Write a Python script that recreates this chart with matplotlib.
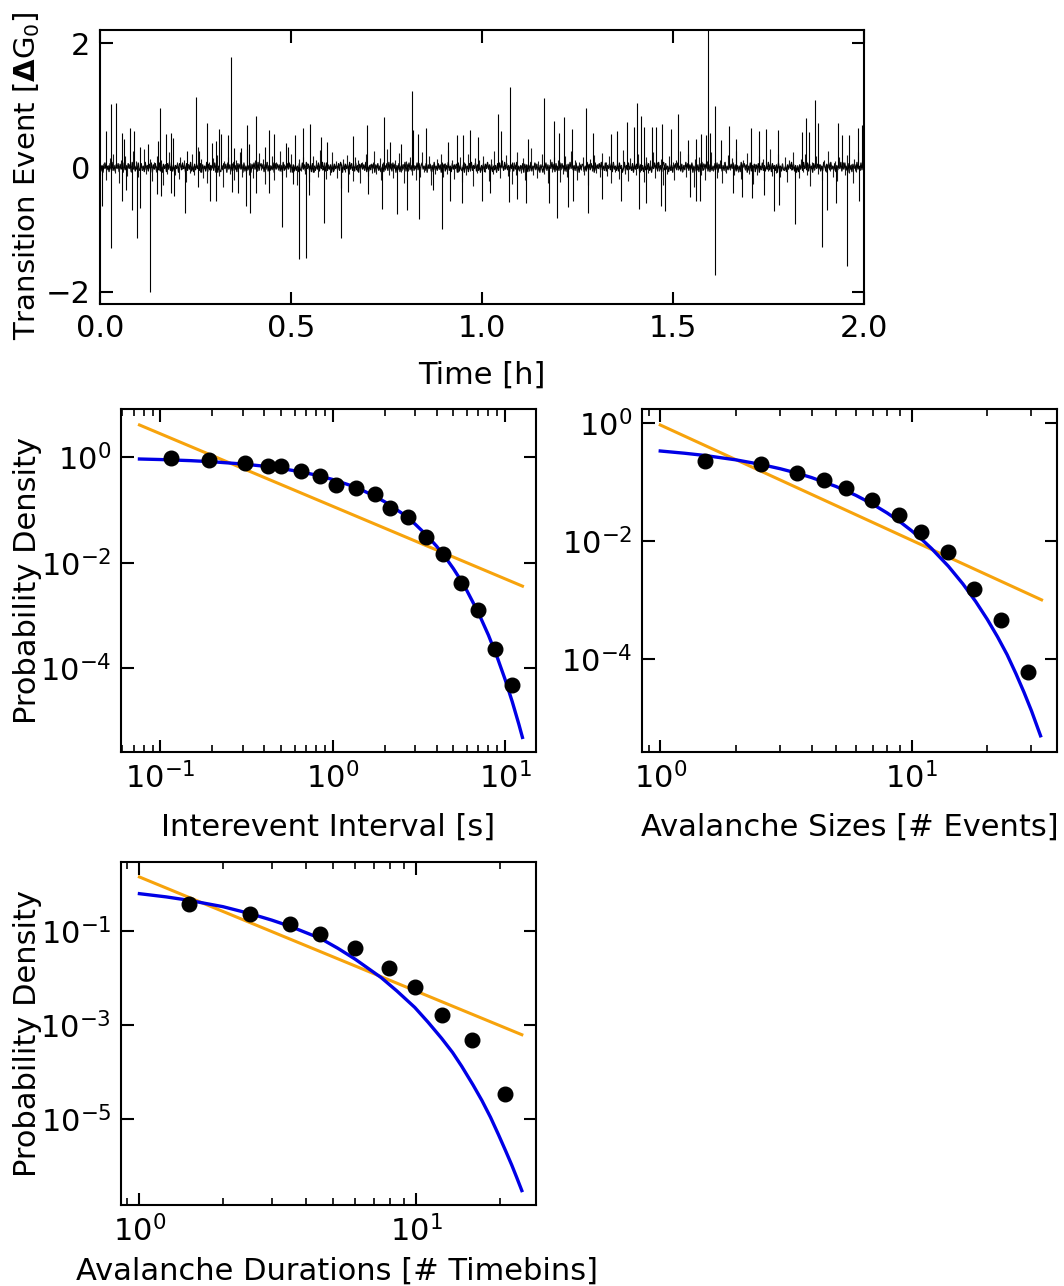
import numpy as np
import matplotlib
matplotlib.use("Agg")
import matplotlib.pyplot as plt
from matplotlib.ticker import FixedLocator, NullLocator, NullFormatter, LogLocator

# ---------------- top panel: transition events ----------------
up_t = [0.0148, 0.0279, 0.0410, 0.0567, 0.0637, 0.0785, 0.0899, 0.1047, 0.1265, 0.151,
        0.157, 0.1728, 0.185, 0.190, 0.2269, 0.2504, 0.2601, 0.281, 0.2923, 0.3037,
        0.3124, 0.3168, 0.3342, 0.3429, 0.3517, 0.3682, 0.3848, 0.3909, 0.4093, 0.4319,
        0.4433, 0.4555, 0.486, 0.493, 0.5105, 0.5305, 0.5497, 0.5777, 0.5934, 0.6632,
        0.6998, 0.7443, 0.760, 0.788, 0.8168, 0.8200, 0.8316, 0.8534, 0.9119, 0.9354,
        0.9494, 0.9686, 0.9904, 1.041, 1.0506, 1.0724, 1.1196, 1.1623, 1.1876, 1.2016,
        1.2155, 1.2347, 1.2714, 1.2897, 1.3377, 1.3525, 1.3787, 1.3979, 1.4058, 1.4154,
        1.424, 1.4459, 1.4555, 1.4703, 1.4948, 1.5122, 1.5401, 1.5593, 1.5733, 1.5855,
        1.5925, 1.5977, 1.6091, 1.6257, 1.6466, 1.6641, 1.7042, 1.7251, 1.7426, 1.7757,
        1.8368, 1.8473, 1.8569, 1.8709, 1.8787, 1.9328, 1.9433, 1.9607, 1.9852, 1.9939]
up_v = [0.59, 1.02, 1.04, 0.55, 0.45, 0.63, 0.59, 0.33, 0.38, 0.42,
        0.96, 0.53, 0.55, 0.47, 0.27, 1.13, 0.26, 0.71, 0.39, 0.43,
        0.62, 0.53, 0.52, 1.77, 0.31, 0.31, 0.68, 0.37, 0.82, 0.32,
        0.60, 0.53, 0.39, 0.32, 0.52, 0.63, 0.69, 0.49, 0.41, 0.51,
        0.68, 0.81, 0.40, 0.37, 1.23, 0.60, 0.53, 0.63, 0.41, 0.52,
        0.52, 0.60, 0.49, 0.85, 0.58, 1.30, 0.45, 1.12, 0.74, 0.55,
        0.81, 0.62, 0.96, 0.55, 0.53, 0.59, 0.73, 0.65, 1.04, 0.83,
        0.65, 0.65, 0.65, 0.69, 0.62, 0.85, 0.44, 0.46, 0.54, 0.52,
        2.35, 0.55, 0.98, 0.44, 0.66, 0.46, 0.63, 0.58, 0.62, 0.60,
        0.57, 0.79, 0.57, 1.09, 0.71, 0.72, 0.52, 0.52, 0.63, 0.68]
down_t = [0.0044, 0.0279, 0.0567, 0.0672, 0.0846, 0.0969, 0.1047, 0.1309, 0.1483, 0.1597,
          0.1859, 0.1946, 0.2225, 0.2557, 0.288, 0.3037, 0.3464, 0.3604, 0.3813, 0.3927,
          0.4084, 0.4433, 0.4756, 0.506, 0.521, 0.5393, 0.548, 0.5873, 0.630, 0.650,
          0.7025, 0.7373, 0.7784, 0.8045, 0.8351, 0.8709, 0.8953, 0.9154, 0.9468, 0.9991,
          1.0209, 1.0707, 1.0908, 1.1143, 1.1754, 1.1963, 1.2243, 1.2391, 1.2766, 1.3133,
          1.3639, 1.411, 1.4293, 1.4686, 1.479, 1.5445, 1.5600, 1.5698, 1.6095, 1.658,
          1.6815, 1.7077, 1.7382, 1.7653, 1.7775, 1.8185, 1.8909, 1.904, 1.9258, 1.9555,
          1.9878]
down_v = [-0.62, -1.30, -0.54, -0.36, -0.69, -1.14, -0.65, -2.01, -0.43, -0.46,
          -0.42, -0.46, -0.74, -0.32, -0.54, -0.54, -0.39, -0.42, -0.62, -0.74,
          -0.41, -0.42, -0.96, -0.27, -1.48, -1.46, -0.44, -0.89, -1.13, -0.39,
          -0.43, -0.67, -0.75, -0.68, -0.83, -0.36, -0.99, -0.55, -0.58, -0.54,
          -0.42, -0.56, -0.51, -0.58, -0.58, -0.82, -0.64, -0.54, -0.74, -0.51,
          -0.55, -0.67, -0.57, -0.62, -0.70, -0.48, -0.54, -0.55, -1.74, -0.41,
          -0.47, -0.49, -0.44, -0.71, -0.61, -0.91, -1.28, -0.68, -0.57, -1.59,
          -0.54]
# medium background fluctuations (hundredths of dG0), evenly sampled over 0-2 h
fuzz_v = [
    5, -12, 8, -20, 3, 15, -6, 22, -9, 4, -25, 11, -4, 18, -14, 6, -8, 27, -3, 10,
    -16, 7, -5, 30, -11, 2, 14, -22, 9, -7, 19, -4, 12, -28, 5, -10, 24, -6, 3, -13,
    8, -19, 16, -3, 11, -24, 6, -9, 21, -12, 4, 33, -7, 13, -17, 2, -26, 9, -5, 15,
    -8, 20, -14, 5, -31, 10, -4, 17, -10, 7, -21, 12, -3, 25, -15, 6, -9, 29, -12, 4,
    -18, 11, -6, 23, -5, 14, -27, 8, -11, 3, 18, -20, 9, -4, 26, -13, 5, -16, 10, -7,
    22, -9, 4, -29, 13, -6, 16, -11, 7, -23, 3, 19, -8, 12, -15, 28, -5, 9, -19, 6,
    -12, 24, -4, 10, -17, 5, -33, 14, -7, 20, -10, 3, -22, 16, -6, 11, -25, 8, -3, 21,
    -14, 6, -9, 27, -11, 4, 15, -20, 8, -5, 30, -13, 7, -18, 12, -4, 23, -8, 5, -26,
    10, -6, 17, -12, 3, -21, 9, -15, 25, -7, 13, -4, 19, -28, 6, -10, 14, -3, 22, -16,
    7, -11, 28, -5, 12, -19, 4, -8, 16, -24, 9, -13, 21, -6, 3, -30, 15, -9, 11, -4,
    18, -7, 5, -22, 13, -10, 26, -4, 8, -17, 11, -3, 20, -14, 6, -27, 9, -12, 24, -5,
    -9, 15, -20, 4, -6, 31, -13, 7, -18, 10, -3, 22, -11, 5, -25, 14, -8, 17, -4, 12,
    -23, 6, -10, 19, -15, 3, 27, -7, 11, -21, 8, -5, 16, -12, 4, -29, 13, -6, 20, -9,
    5, -16, 23, -4, 9, -14, 18, -26, 7, -8, 12, -19, 3, 28, -10, 6, -22, 15, -5, 10,
    -13, 21, -7, 4, -24, 16, -9, 11, -3, 25, -17, 8, -6, 14, -28, 5, -11, 19, -4, 9,
    -20, 12, -5, 26, -8, 3, -15, 22, -10, 6, -31, 13, -4, 17, -12, 7, -21, 10, -3, 24,
    -6, 14, -18, 5, 11, -25, 8, -9, 20, -4, 15, -13, 27, -7, 3, -19, 12, -5, 23, -11,
    9, -27, 6, -12, 18, -3, 13, -20, 10, -6, 29, -14, 4, -9, 21, -16, 7, -4, 16, -23,
    11, -5, 25, -10, 3, -18, 14, -7, 22, -13, 5, -30, 9, -4, 19, -11, 6, -21, 12, -8,
    26, -6, 4, -15, 10, -22, 17, -3, 8, -12, 20, -9, 5, -26, 13, -7, 24, -5, 11, -14]
# small, dense fluctuations around zero (hundredths of dG0), evenly sampled over 0-2 h
band_v = [
    4, -6, 3, -8, 5, -2, 7, -4, 2, -7, 6, -3, 8, -5, 3, -6, 4, -2, 6, -7, 5, -3, 2, -8, 7, -4, 3, -5, 6, -2, 4, -7, 8, -3, 5, -6, 2, -4, 7, -5,
    -3, 6, -5, 2, -7, 8, -4, 3, -6, 5, -2, 7, -8, 4, -3, 6, -5, 2, -4, 7, -6, 3, -8, 5, -2, 4, -7, 6, -3, 8, -5, 2, -6, 4, -7, 3, -2, 5, -8, 6,
    5, -4, 7, -2, 3, -8, 6, -5, 4, -3, 8, -6, 2, -7, 5, -4, 3, -2, 7, -5, 6, -8, 4, -3, 2, -6, 8, -7, 5, -4, 3, -2, 6, -5, 7, -3, 4, -8, 2, -6,
    -7, 3, -4, 6, -2, 5, -8, 7, -3, 4, -6, 2, -5, 8, -4, 3, -7, 6, -2, 5, -3, 4, -8, 7, -6, 2, -5, 3, -4, 6, -8, 5, -2, 7, -3, 4, -6, 8, -5, 2,
    6, -2, 5, -7, 4, -3, 8, -6, 3, -5, 2, -4, 7, -8, 6, -3, 5, -2, 4, -6, 3, -7, 8, -5, 2, -4, 6, -3, 7, -2, 5, -8, 4, -6, 3, -5, 2, -7, 6, -4,
    -5, 7, -3, 4, -6, 8, -2, 5, -4, 3, -7, 6, -8, 2, -5, 4, -3, 7, -6, 5, -2, 8, -4, 3, -6, 7, -5, 2, -3, 4, -8, 6, -7, 5, -2, 3, -4, 6, -5, 8,
    3, -8, 6, -4, 5, -2, 4, -7, 8, -3, 6, -5, 2, -6, 7, -4, 3, -8, 5, -2, 6, -3, 4, -5, 8, -7, 2, -6, 3, -4, 5, -2, 7, -8, 4, -3, 6, -5, 2, -7,
    -4, 5, -7, 3, -2, 6, -5, 8, -3, 4, -6, 7, -2, 5, -8, 3, -4, 6, -7, 2, -5, 4, -3, 8, -6, 5, -2, 7, -4, 3, -6, 8, -5, 2, -3, 7, -4, 6, -8, 3,
    7, -3, 2, -5, 6, -8, 4, -2, 5, -6, 3, -7, 8, -4, 2, -5, 6, -3, 4, -8, 7, -2, 5, -6, 3, -4, 8, -5, 2, -7, 6, -3, 4, -2, 5, -8, 7, -6, 3, -4,
    -6, 4, -8, 5, -3, 2, -7, 6, -4, 8, -5, 3, -2, 7, -6, 4, -5, 2, -8, 3, -4, 6, -7, 5, -2, 8, -3, 4, -6, 5, -7, 2, -4, 3, -8, 6, -5, 7, -2, 4,
    2, -5, 8, -3, 6, -4, 3, -7, 5, -2, 7, -6, 4, -3, 8, -5, 2, -6, 3, -4, 6, -8, 5, -2, 4, -7, 3, -5, 8, -6, 2, -3, 7, -4, 5, -6, 3, -8, 4, -2,
    -8, 2, -3, 7, -5, 4, -6, 3, -2, 8, -4, 5, -7, 6, -3, 2, -5, 7, -4, 6, -2, 3, -6, 4, -7, 5, -3, 8, -2, 6, -4, 3, -5, 7, -6, 2, -8, 4, -3, 5,
    4, -7, 2, -6, 8, -3, 5, -4, 6, -2, 3, -8, 7, -5, 4, -2, 6, -3, 8, -4, 2, -5, 7, -6, 3, -2, 5, -4, 6, -7, 8, -3, 2, -5, 4, -6, 7, -2, 3, -8,
    -2, 8, -6, 3, -4, 7, -3, 2, -5, 6, -8, 4, -3, 5, -2, 7, -6, 4, -5, 3, -7, 2, -4, 8, -3, 6, -5, 2, -8, 4, -2, 7, -3, 5, -6, 8, -4, 3, -7, 6,
    8, -4, 6, -3, 2, -7, 4, -5, 3, -8, 5, -2, 6, -4, 7, -3, 2, -6, 5, -7, 3, -4, 8, -2, 6, -5, 4, -3, 7, -8, 2, -6, 5, -3, 4, -7, 6, -2, 8, -5,
    -3, 5, -2, 8, -6, 4, -7, 3, -5, 2, -4, 6, -3, 7, -8, 5, -2, 4, -6, 3, -5, 8, -7, 2, -4, 6, -3, 5, -2, 7, -8, 4, -6, 3, -5, 2, -7, 8, -4, 6,
    6, -3, 4, -8, 2, -5, 7, -6, 3, -2, 5, -7, 4, -3, 6, -8, 2, -4, 7, -5, 3, -6, 2, -3, 8, -4, 5, -7, 6, -2, 3, -5, 4, -8, 7, -3, 2, -6, 5, -4,
    -5, 2, -7, 4, -3, 6, -2, 8, -4, 5, -6, 3, -8, 2, -7, 4, -3, 6, -5, 8, -2, 3, -4, 7, -6, 5, -3, 2, -8, 6, -4, 7, -2, 5, -3, 4, -6, 2, -5, 8,
    3, -6, 5, -2, 7, -4, 8, -3, 2, -5, 6, -7, 3, -4, 5, -2, 8, -6, 4, -3, 7, -5, 2, -8, 6, -4, 3, -7, 5, -2, 4, -6, 8, -3, 2, -5, 7, -4, 6, -3]
time_ticks = [0.0, 0.5, 1.0, 1.5, 2.0]
time_labels = ["0.0", "0.5", "1.0", "1.5", "2.0"]
event_ticks = [-2, 0, 2]
event_labels = ["\u22122", "0", "2"]

# ---------------- interevent intervals ----------------
iei_x = [0.115, 0.192, 0.31, 0.42, 0.50, 0.65, 0.84, 1.04, 1.36, 1.75,
         2.15, 2.72, 3.47, 4.38, 5.58, 6.92, 8.74, 11.0]
iei_y = [0.96, 0.89, 0.79, 0.68, 0.68, 0.55, 0.45, 0.30, 0.26, 0.20,
         0.108, 0.073, 0.031, 0.0144, 0.0042, 0.00126, 2.35e-4, 4.9e-5]
iei_fit_x = [0.0755, 0.1, 0.15, 0.2, 0.3, 0.4, 0.5, 0.65, 0.8, 1.0, 1.25, 1.5, 1.75,
             2.0, 2.5, 3.0, 3.5, 4.0, 4.5, 5.0, 5.5, 6.0, 7.0, 8.0, 9.0, 10.0, 11.0,
             12.0, 12.6]
iei_fit_y = [0.929, 0.907, 0.864, 0.823, 0.747, 0.678, 0.615, 0.532, 0.460, 0.379,
             0.297, 0.233, 0.183, 0.1434, 0.0883, 0.0543, 0.0334, 0.0206, 0.01266,
             0.00779, 0.00479, 0.00295, 1.117e-3, 4.23e-4, 1.60e-4, 6.07e-5, 2.30e-5,
             8.7e-6, 4.86e-6]
iei_pl_x = [0.0755, 12.6]
iei_pl_y = [4.11, 0.0036]

# ---------------- avalanche sizes ----------------
size_x = [1.51, 2.51, 3.49, 4.47, 5.48, 6.95, 8.91, 10.9, 13.9, 17.7, 22.6, 29.1]
size_y = [0.232, 0.201, 0.1436, 0.109, 0.0788, 0.050, 0.0278, 0.0145, 0.00646,
          0.00154, 4.47e-4, 5.9e-5]
size_fit_x = [1.0, 1.25, 1.5, 2.0, 2.5, 3.0, 3.5, 4.0, 5.0, 6.0, 7.0, 8.0, 9.0, 10.0,
              11.0, 12.0, 14.0, 16.0, 18.0, 20.0, 22.0, 24.0, 26.0, 28.0, 30.0, 32.6]
size_fit_y = [0.3385, 0.310, 0.2846, 0.2393, 0.2012, 0.1692, 0.1423, 0.1197, 0.0846,
              0.0598, 0.0423, 0.0299, 0.02116, 0.01496, 0.01058, 0.00748, 0.00374,
              0.00187, 9.35e-4, 4.68e-4, 2.34e-4, 1.17e-4, 5.6e-5, 2.7e-5, 1.3e-5, 4.9e-6]
size_pl_x = [1.0, 32.9]
size_pl_y = [0.937, 1.0e-3]

# ---------------- avalanche durations ----------------
dur_x = [1.51, 2.50, 3.49, 4.48, 5.99, 7.93, 9.91, 12.4, 15.9, 20.9]
dur_y = [0.383, 0.234, 0.146, 0.089, 0.0441, 0.0166, 0.0064, 0.00167, 4.75e-4, 3.5e-5]
dur_fit_x = [1.0, 1.25, 1.5, 2.0, 2.5, 3.0, 3.5, 4.5, 5.2, 6.0, 7.46, 8.5, 9.86, 11.0,
             12.33, 13.5, 14.55, 16.0, 17.22, 18.5, 19.77, 21.0, 22.08, 23.0, 24.0]
dur_fit_y = [0.635, 0.542, 0.461, 0.336, 0.240, 0.174, 0.128, 0.0708, 0.0437, 0.0257,
             0.01035, 0.00537, 0.0024, 0.00117, 5.25e-4, 2.63e-4, 1.35e-4, 5.37e-5,
             2.51e-5, 1.10e-5, 4.68e-6, 2.09e-6, 1.05e-6, 5.75e-7, 3.02e-7]
dur_pl_x = [1.0, 24.0]
dur_pl_y = [1.44, 6.3e-4]

# ---------------- styling ----------------
plt.rcParams.update({
    "font.family": ["DejaVu Sans"],
    "font.size": 22,
    "axes.linewidth": 1.5,
    "mathtext.default": "regular",
})
BLUE = "#0000e6"
ORANGE = "#f7a30c"

fig = plt.figure(figsize=(10.64, 12.86), dpi=100)
W, H = 1064.0, 1286.0


def add_axes(l, t, r, b):
    return fig.add_axes([l / W, 1 - b / H, (r - l) / W, (b - t) / H])


def style(ax):
    ax.tick_params(which="both", direction="in", top=True, right=True)
    ax.tick_params(which="major", length=9, width=1.5, pad=7)
    ax.tick_params(which="minor", length=5, width=1.2)


# top panel
ax0 = add_axes(100, 30, 864, 304)
band_t = np.linspace(0, 2, len(band_v))
fuzz_t = np.linspace(0, 2, len(fuzz_v))
ax0.plot(band_t, np.array(band_v) / 100.0, color="black", lw=0.9)
ax0.vlines(fuzz_t, 0, np.array(fuzz_v) / 100.0, color="#1a1a1a", lw=0.8)
ax0.vlines(up_t, 0, up_v, color="black", lw=0.8)
ax0.vlines(down_t, 0, down_v, color="black", lw=0.8)
ax0.set_xlim(0, 2)
ax0.set_ylim(-2.2, 2.21)
ax0.set_xticks(time_ticks)
ax0.set_yticks(event_ticks)
ax0.set_xticklabels(time_labels)
ax0.set_yticklabels(event_labels)
style(ax0)
ax0.set_xlabel("Time [h]", labelpad=13)
ax0.set_ylabel("Transition Event [$\\mathbf{\\Delta}$G$_0$]", fontsize=21)
ax0.yaxis.set_label_coords(-0.076, 0.47)


def loglog_panel(ax, x, y, fx, fy, px, py, xlim, ylim, yticks, xlabel, ylabel, xpad,
                 xlab_x=0.5):
    ax.plot(px, py, color=ORANGE, lw=2.2, zorder=2)
    ax.plot(fx, fy, color=BLUE, lw=2.4, zorder=3)
    ax.plot(x, y, "o", color="black", ms=10.5, zorder=4)
    ax.set_xscale("log")
    ax.set_yscale("log")
    ax.set_xlim(*xlim)
    ax.set_ylim(*ylim)
    ax.yaxis.set_major_locator(FixedLocator(yticks))
    ax.yaxis.set_minor_locator(NullLocator())
    ax.xaxis.set_major_locator(LogLocator(base=10, numticks=10))
    ax.xaxis.set_minor_locator(LogLocator(base=10, subs=range(2, 10), numticks=20))
    ax.xaxis.set_minor_formatter(NullFormatter())
    style(ax)
    ax.set_xlabel(xlabel, labelpad=xpad)
    ax.xaxis.label.set_x(xlab_x)
    if ylabel:
        ax.set_ylabel(ylabel)
        ax.yaxis.set_label_coords(-0.19, 0.5)


ax1 = add_axes(121, 409, 536, 752)
loglog_panel(ax1, iei_x, iei_y, iei_fit_x, iei_fit_y, iei_pl_x, iei_pl_y,
             (0.059, 15.1), (2.57e-6, 8.25), [1e0, 1e-2, 1e-4],
             "Interevent Interval [s]", "Probability Density", 13)

ax2 = add_axes(642, 409, 1057, 752)
loglog_panel(ax2, size_x, size_y, size_fit_x, size_fit_y, size_pl_x, size_pl_y,
             (0.846, 37.9), (2.6e-6, 1.75), [1e0, 1e-2, 1e-4],
             "Avalanche Sizes [# Events]", None, 13)

ax3 = add_axes(121, 862, 536, 1205)
loglog_panel(ax3, dur_x, dur_y, dur_fit_x, dur_fit_y, dur_pl_x, dur_pl_y,
             (0.858, 27.0), (1.49e-7, 3.0), [1e-1, 1e-3, 1e-5],
             "Avalanche Durations [# Timebins]", "Probability Density", 7, 0.52)

fig.savefig("out.png", dpi=100)
